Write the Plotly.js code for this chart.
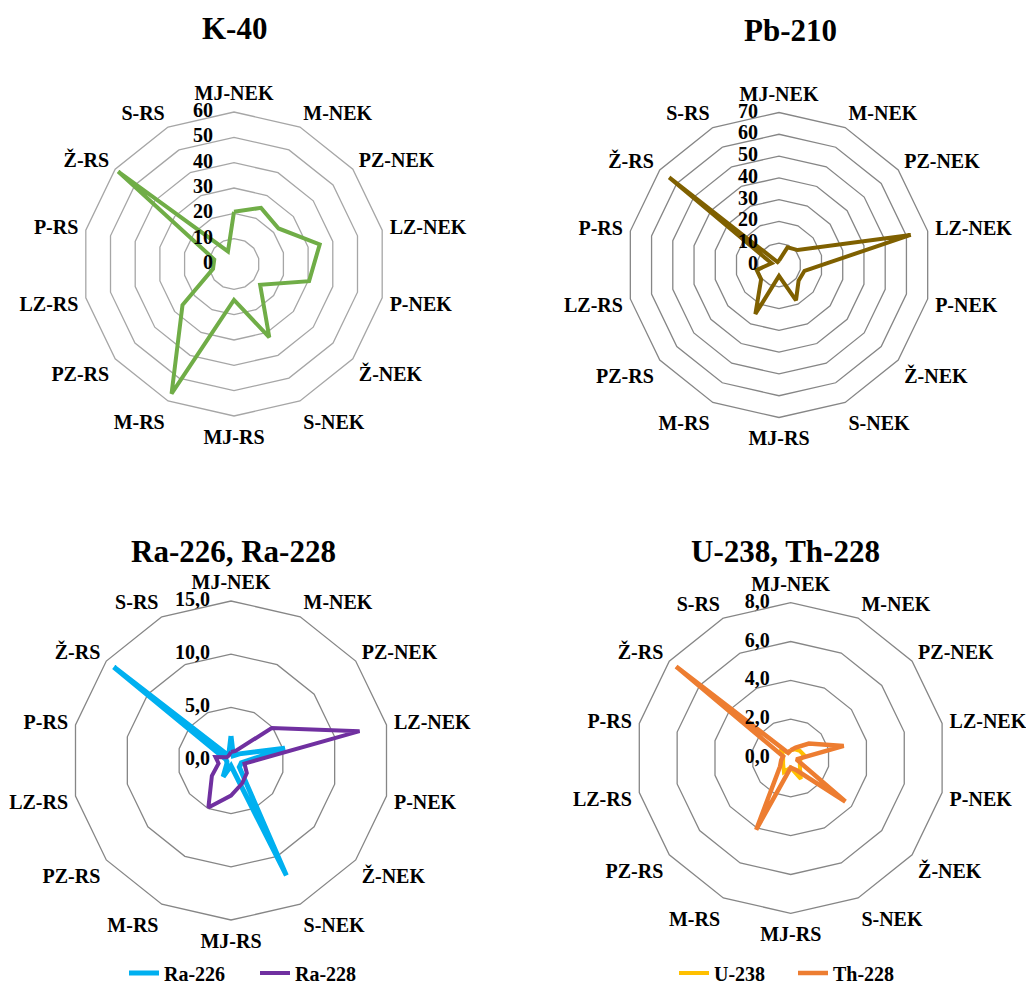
<!DOCTYPE html>
<html>
<head>
<meta charset="utf-8">
<script src="https://cdn.plot.ly/plotly-3.0.1.min.js"></script>
<style>
  html, body { margin: 0; padding: 0; background: #ffffff; overflow: hidden; }
  #chart { width: 1026px; height: 984px; overflow: hidden; }
</style>
</head>
<body>
<div id="chart"></div>
<script>
// Sampling locations (clockwise from the top)
const categories = ['MJ-NEK', 'M-NEK', 'PZ-NEK', 'LZ-NEK', 'P-NEK', 'Ž-NEK', 'S-NEK',
                    'MJ-RS', 'M-RS', 'PZ-RS', 'LZ-RS', 'P-RS', 'Ž-RS', 'S-RS'];

// Activity values per location
const k40   = [20.6, 24.6, 22.5, 34.7, 30.4, 13.2, 32.1, 14.2, 56.8, 26.0, 8.5, 8.0, 58.5, 5.5];
const pb210 = [2.0, 9.0, 11.0, 62.0, 12.0, 11.5, 18.0, 5.0, 25.0, 10.5, 10.5, 3.5, 64.5, 1.5];
const ra226 = [2.3, 0.5, 1.0, 5.2, 1.0, 1.0, 12.0, 0.5, 1.7, 0.5, 0.4, 0.5, 14.1, 0.5];
const ra228 = [0.8, 1.0, 4.9, 12.4, 1.3, 1.9, 2.4, 3.3, 4.9, 2.3, 1.2, 1.5, 0.5, 0.5];
const u238  = [0.4, 0.5, 0.6, 0.7, 0.5, 0.6, 1.2, 0.5, 0.8, 0.5, 0.4, 0.4, 0.7, 0.3];
const th228 = [0.4, 0.6, 1.2, 2.8, 0.3, 3.6, 0.7, 0.5, 4.1, 0.7, 0.5, 0.4, 7.55, 0.3];

// Radial tick values and their labels for each panel
const k40Ticks   = [0, 10, 20, 30, 40, 50, 60];
const pb210Ticks = [0, 10, 20, 30, 40, 50, 60, 70];
const raTicks    = [0, 5, 10, 15];
const uthTicks   = [0, 2, 4, 6, 8];
const k40TickText   = ['0', '10', '20', '30', '40', '50', '60'];
const pb210TickText = ['0', '10', '20', '30', '40', '50', '60', '70'];
const raTickText    = ['0,0', '5,0', '10,0', '15,0'];
const uthTickText   = ['0,0', '2,0', '4,0', '6,0', '8,0'];

// Panel titles
const panelTitles = ['K-40', 'Pb-210', 'Ra-226, Ra-228', 'U-238, Th-228'];

const W = 1026, H = 1000;   // figure is a little taller than the visible page
const FONT = 'Liberation Serif';
const boldFont = size => ({ family: FONT, size: size, color: '#000000', weight: 'bold' });

// close a polygon by repeating the first point
const closed = arr => arr.concat([arr[0]]);
const thetaClosed = closed(categories);

function series(values, name, color, width, polar, legend, show) {
  return {
    type: 'scatterpolar',
    mode: 'lines',
    r: closed(values),
    theta: thetaClosed,
    name: name,
    subplot: polar,
    legend: legend,
    showlegend: show,
    line: { color: color, width: width },
    hoverinfo: 'r+theta+name'
  };
}

// radial scale labels, placed on the rings along the upward spoke.
// A point exactly on the pole counts as outside a polygonal grid,
// so the centre label sits a negligible distance off it.
function scaleLabels(ticks, texts, polar) {
  const top = ticks[ticks.length - 1];
  return {
    type: 'scatterpolar',
    mode: 'markers+text',
    r: ticks.map(t => Math.max(t, top * 1e-4)),
    theta: ticks.map(() => categories[0]),
    text: texts,
    textposition: 'middle left',
    textfont: boldFont(20),
    marker: { size: 32, color: 'rgba(0,0,0,0)' },
    subplot: polar,
    showlegend: false,
    cliponaxis: false,
    hoverinfo: 'skip'
  };
}

const traces = [
  series(k40,   'K-40',   '#70AD47', 4,   'polar',  'legend',  false),
  series(pb210, 'Pb-210', '#7F6000', 4,   'polar2', 'legend',  false),
  series(ra226, 'Ra-226', '#00B0F0', 5,   'polar3', 'legend',  true),
  series(ra228, 'Ra-228', '#7030A0', 4,   'polar3', 'legend',  true),
  series(u238,  'U-238',  '#FFC000', 4,   'polar4', 'legend2', true),
  series(th228, 'Th-228', '#ED7D31', 4.5, 'polar4', 'legend2', true),
  scaleLabels(k40Ticks,   k40TickText,   'polar'),
  scaleLabels(pb210Ticks, pb210TickText, 'polar2'),
  scaleLabels(raTicks,    raTickText,    'polar3'),
  scaleLabels(uthTicks,   uthTickText,   'polar4')
];

// pixel centre / radius of each radar, converted to domain fractions
const geom = [
  { cx: 234,   cy: 264,   R: 152 },
  { cx: 779,   cy: 265,   R: 152.5 },
  { cx: 231,   cy: 760.5, R: 159.5 },
  { cx: 790.7, cy: 758,   R: 155.3 }
];
const tickSets = [k40Ticks, pb210Ticks, raTicks, uthTicks];
const gridColors = ['#A6A6A6', '#868686', '#868686', '#868686'];

function polarLayout(i) {
  const g = geom[i];
  const ticks = tickSets[i];
  return {
    domain: {
      x: [(g.cx - g.R) / W, (g.cx + g.R) / W],
      y: [(H - (g.cy + g.R)) / H, (H - (g.cy - g.R)) / H]
    },
    gridshape: 'linear',
    bgcolor: 'rgba(0,0,0,0)',
    angularaxis: {
      type: 'category',
      categoryorder: 'array',
      categoryarray: categories,
      rotation: 90,
      direction: 'clockwise',
      showgrid: false,
      showline: true,
      linecolor: gridColors[i],
      linewidth: 1.3,
      ticks: 'outside',
      ticklen: 3,
      tickcolor: 'rgba(0,0,0,0)',
      tickfont: boldFont(20)
    },
    radialaxis: {
      range: [ticks[0], ticks[ticks.length - 1]],
      tickvals: ticks.slice(1),
      showticklabels: false,
      angle: 90,
      showline: false,
      ticks: '',
      showgrid: true,
      gridcolor: gridColors[i],
      gridwidth: 1.3
    }
  };
}

const titleY = [28, 30, 551, 551];
const titleX = [234, 790, 233, 785];
const annotations = panelTitles.map((t, i) => ({
  text: t,
  xref: 'paper', yref: 'paper',
  x: titleX[i] / W, y: 1 - titleY[i] / H,
  xanchor: 'center', yanchor: 'middle',
  showarrow: false,
  font: boldFont(31)
}));

const layout = {
  width: W,
  height: H,
  margin: { l: 0, r: 0, t: 0, b: 0, autoexpand: false },
  paper_bgcolor: '#ffffff',
  font: { family: FONT, weight: 'bold' },
  polar: polarLayout(0),
  polar2: polarLayout(1),
  polar3: polarLayout(2),
  polar4: polarLayout(3),
  annotations: annotations,
  legend: {
    orientation: 'h',
    x: 124 / W, y: 1 - 973 / H,
    xanchor: 'left', yanchor: 'middle',
    font: boldFont(20),
    bgcolor: 'rgba(0,0,0,0)',
    entrywidth: 86,
    entrywidthmode: 'pixels'
  },
  legend2: {
    orientation: 'h',
    x: 674 / W, y: 1 - 973 / H,
    xanchor: 'left', yanchor: 'middle',
    font: boldFont(20),
    bgcolor: 'rgba(0,0,0,0)',
    entrywidth: 74,
    entrywidthmode: 'pixels'
  },
  showlegend: true
};

Plotly.newPlot('chart', traces, layout, { displayModeBar: false, staticPlot: true });
</script>
</body>
</html>
